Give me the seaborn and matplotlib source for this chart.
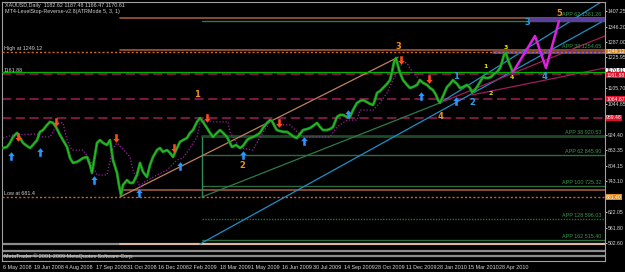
import matplotlib
matplotlib.use("Agg")
import matplotlib.pyplot as plt
import matplotlib.transforms as mtransforms
import numpy as np
import pandas as pd
import seaborn as sns

# ---------------- data (bar index, price) ----------------
price_bars = [0, 4, 7, 10, 14, 17, 20, 24, 27, 30, 34, 37, 40, 44, 47, 50, 53, 57, 60, 64,
              67, 70, 74, 77, 80, 84, 87, 89, 92, 94, 97, 100, 104, 107, 110, 114, 116, 118, 120, 124,
              127, 130, 134, 137, 140, 144, 147, 150, 154, 157, 160, 164, 167, 170, 174, 177, 180, 184, 187, 190,
              194, 197, 200, 204, 207, 210, 214, 217, 220, 224, 227, 229, 233, 237, 240, 244, 247, 250, 254, 257,
              260, 264, 267, 269, 272, 274, 277, 281, 284, 287, 291, 294, 297, 300, 304, 307, 310, 314, 317, 320,
              324, 327, 330, 332, 334, 337, 340, 344, 347, 350, 354, 357, 360, 364, 367, 370, 372, 374, 377, 380,
              384, 387, 389, 391, 393, 395, 397, 400, 404, 407, 410, 414, 417, 420, 424, 427, 430, 433, 435, 437,
              440, 444, 447, 450, 454, 457, 460, 464, 467, 469, 472, 474, 477, 480, 483, 485, 488, 491, 494, 497,
              499, 501, 503, 505, 507, 509, 510]
price_vals = [873, 877, 893, 916, 932, 912, 893, 881, 873, 885, 904, 936, 943, 963, 975, 971, 955, 924, 904, 877,
              834, 815, 819, 826, 834, 838, 807, 776, 846, 893, 904, 893, 885, 904, 826, 776, 729, 690, 729, 748,
              737, 737, 768, 815, 780, 760, 807, 838, 865, 873, 858, 865, 854, 838, 873, 897, 904, 912, 932, 943,
              975, 990, 975, 951, 932, 916, 932, 943, 932, 916, 893, 877, 885, 873, 881, 904, 912, 916, 924, 932,
              951, 971, 982, 978, 955, 943, 939, 936, 936, 928, 916, 912, 928, 943, 947, 951, 959, 971, 955, 943,
              943, 947, 955, 975, 994, 1002, 1002, 994, 994, 1021, 1049, 1056, 1060, 1052, 1045, 1041, 1060, 1088, 1095, 1107,
              1123, 1138, 1169, 1208, 1224, 1193, 1166, 1138, 1119, 1107, 1111, 1119, 1138, 1127, 1119, 1107, 1099, 1080, 1060, 1049,
              1076, 1111, 1123, 1138, 1123, 1107, 1111, 1119, 1107, 1091, 1099, 1111, 1130, 1150, 1146, 1146, 1150, 1162, 1169, 1185,
              1208, 1236, 1244, 1216, 1197, 1177, 1171]

stop_bars = [0, 10, 34, 37, 47, 50, 55, 60, 64, 69, 80, 87, 94, 104, 110, 114, 127, 130, 137, 140,
             154, 164, 174, 180, 187, 194, 197, 204, 210, 225, 227, 237, 250, 257, 264, 267, 274, 287, 294, 300,
             327, 334, 344, 354, 357, 370, 377, 384, 390, 397, 400, 404, 410, 417]
stop_vals = [912, 924, 928, 916, 916, 935, 974, 971, 904, 865, 865, 826, 768, 768, 873, 893, 838, 787, 721, 737,
             768, 787, 826, 834, 873, 916, 971, 982, 975, 975, 936, 873, 865, 916, 955, 982, 963, 963, 936, 916,
             916, 955, 982, 982, 1021, 1021, 1049, 1088, 1138, 1189, 1208, 1204, 1166, 1138]

# projection zigzag
proj_bars = [510, 532, 543, 556]
proj_vals = [1169, 1310, 1185, 1368]

# horizontal levels
high_level = 1249.12
low_level = 681.40
bid_level = 1170.61
dashed_levels = [1161.6, 1064.1, 990.1]
app_levels = [1380.0, 1254.65, 920.53, 845.90, 725.32, 596.03, 515.40]
app_texts = ["APP 62 1381.26", "APP 38 1254.65", "APP 38 920.53", "APP 62 845.90",
             "APP 100 725.32", "APP 128 596.03", "APP 162 515.40"]
brown_levels = [1380.0, 1254.65, 709.3, 499.5]
green_top_level = 1368.3
target_band_level = 1372.0
blue_level = 1246.0
gray_levels = [498.7, 471.5, 452.0]

# trend lines (bar0, price0, bar1, price1)
tan_line = (117, 682.0, 395, 1227.0)
green_line = (199, 682.0, 437, 1049.0)
cyan_line_a = (197, 498.7, 602, 1372.0)
cyan_line_b = (437, 1049.0, 598, 1442.0)
crimson_line_a = (437, 1049.0, 602, 1310.0)
crimson_line_b = (469, 1080.0, 602, 1185.0)
vline_bar = 199
vline_vals = (682.0, 916.0)

# signal arrows
down_bars = [15, 53, 113, 171, 204, 276, 398, 426]
down_vals = [916, 974, 912, 873, 990, 971, 1216, 1142]
up_bars = [8, 37, 91, 136, 177, 240, 301, 345, 418, 453]
up_vals = [842, 857, 748, 698, 803, 846, 900, 1005, 1076, 1056]

# wave labels
orange_waves = ["1", "2", "3", "4", "5"]
orange_bars = [194, 239, 395, 437, 556]
orange_vals = [1080, 803, 1267, 994, 1396]
cyan_waves = ["1", "2", "3", "4"]
cyan_bars = [453, 469, 524, 542]
cyan_vals = [1150, 1049, 1364, 1150]
yellow_waves = ["1", "2", "3", "4"]
yellow_bars = [482, 488, 503, 509]
yellow_vals = [1189, 1087, 1266, 1146]

ytick_vals = [1407.25, 1346.20, 1287.00, 1225.95, 1105.70, 1044.65, 924.40, 863.35,
              804.15, 743.10, 622.05, 561.80, 502.60]
xtick_labels = ["6 May 2008", "19 Jun 2008", "4 Aug 2008", "17 Sep 2008", "31 Oct 2008",
                "16 Dec 2008", "2 Feb 2009", "18 Mar 2009", "1 May 2009", "16 Jun 2009",
                "30 Jul 2009", "14 Sep 2009", "28 Oct 2009", "11 Dec 2009", "28 Jan 2010",
                "15 Mar 2010", "28 Apr 2010"]
xtick_bars = [-1 + 31 * i for i in range(len(xtick_labels))]

# ---------------- drawing ----------------
sns.set_style("dark", {"axes.facecolor": "black", "figure.facecolor": "black",
                       "axes.edgecolor": "#a0a0a0", "grid.color": "black"})
plt.rcParams['font.family'] = ['Liberation Sans', 'DejaVu Sans']
FS = 3.9

fig = plt.figure(figsize=(6.25, 2.72), dpi=100, facecolor="black")
ax = fig.add_axes([2 / 625, 11 / 272, 603 / 625, 259 / 272])
ax.set_facecolor("black")
XMIN, XMAX = -1, 602
ax.set_xlim(XMIN, XMAX)
ax.set_ylim(432.5, 1442.3)

def hseg(level, b0, b1, **kw):
    ax.plot([b0, b1], [level, level], **kw)

# gray bottom lines
for g in gray_levels:
    hseg(g, XMIN, XMAX, color="#8c8c8c", lw=1.6, zorder=1)
# brown levels
for lv in brown_levels:
    col = "#f0c0a0" if lv < 500 else "#a0583a"
    hseg(lv, 117, XMAX, color=col, lw=1.2, zorder=2)
# app green levels
for lv in app_levels[2:]:
    lw = 2.0 if abs(lv - 920.53) < 1 else 1.0
    col = "#1f4a28" if lw > 1 else "#2e6a3e"
    ls = (0, (1, 1)) if abs(lv - 596.03) < 1 else "-"
    hseg(lv, 199, XMAX, color=col, lw=lw, ls=ls, zorder=2)
hseg(green_top_level, 199, XMAX, color="#2e7a4e", lw=1.0, zorder=2)
hseg(target_band_level, 529, XMAX, color="#5b3f9a", lw=3.0, zorder=3)
hseg(blue_level, 490, XMAX, color="#4646e0", lw=2.0, zorder=3)
# dashed crimson
for lv in dashed_levels:
    hseg(lv, XMIN, XMAX, color="#9e1d5c", lw=1.1, ls=(0, (6, 3)), zorder=2)
# high / low dotted
hseg(high_level, XMIN, XMAX, color="#d2691e", lw=1.0, ls=(0, (1.5, 1.5)), zorder=3)
hseg(low_level, XMIN, XMAX, color="#c8642a", lw=1.0, ls=(0, (1.5, 1.5)), zorder=3)
hseg(bid_level, XMIN, XMAX, color="#00b400", lw=0.9, zorder=3)

# vertical line
ax.plot([vline_bar, vline_bar], list(vline_vals), color="#2e8b57", lw=1.0, zorder=2)

# trend lines
for (b0, p0, b1, p1), col in [(tan_line, "#c08060"), (green_line, "#2e7a4e"),
                              (cyan_line_a, "#1e90c8"), (cyan_line_b, "#1e90c8"),
                              (crimson_line_a, "#a01e5a"), (crimson_line_b, "#a01e5a")]:
    ax.plot([b0, b1], [p0, p1], color=col, lw=0.9, zorder=2)

# stop line
sns.lineplot(x=stop_bars, y=stop_vals, ax=ax, color="#a020a0", lw=0.9,
             linestyle=(0, (1, 1.5)), zorder=3, legend=False)

# price series
df = pd.DataFrame({"bar": price_bars, "price": price_vals})
sns.lineplot(data=df, x="bar", y="price", ax=ax, color="#1a961a", lw=2.0, zorder=4, legend=False)
sns.lineplot(data=df, x="bar", y="price", ax=ax, color="#30c030", lw=0.6, zorder=4, legend=False)

# projection zigzag
ax.plot(proj_bars, proj_vals, color="#e020e0", lw=1.8, zorder=5)

# arrows
def arrow_marker(up):
    v = [(-0.3, -1), (0.3, -1), (0.3, 0.1), (0.75, 0.1), (0, 1), (-0.75, 0.1), (-0.3, 0.1)]
    if not up:
        v = [(x, -y) for x, y in v]
    return v
ax.scatter(down_bars, down_vals, marker=arrow_marker(False), s=38, color="#ff4a1e",
           linewidths=0, zorder=6)
ax.scatter(up_bars, up_vals, marker=arrow_marker(True), s=38, color="#2a96ff",
           linewidths=0, zorder=6)

# wave labels
for labs, bs, vs, col in [(orange_waves, orange_bars, orange_vals, "#f0901e"),
                          (cyan_waves, cyan_bars, cyan_vals, "#28a0e6"),
                          (yellow_waves, yellow_bars, yellow_vals, "#e6e600")]:
    for t, b, v in zip(labs, bs, vs):
        ax.text(b, v, t, color=col, fontsize=6 if col != "#e6e600" else 4.5,
                family="DejaVu Sans", fontweight="bold", ha="center", va="center", zorder=7)

# texts
small = dict(fontsize=FS, color="#d0d0d0", zorder=8)
ax.text(2, 1442.3 - 14, "XAUUSD,Daily  1182.62 1187.48 1166.47 1170.61", va="center", **small)
ax.text(2, 1442.3 - 37, "MT4-LevelStop-Reverse-v2.8(ATRMode 5, 3, 1)", va="center", **small)
ax.text(1, high_level + 4, "High at 1249.12", va="bottom", **small)
ax.text(1, dashed_levels[0] + 4, "1161.88", va="bottom", **small)
ax.text(1, low_level + 4, "Low at 681.4", va="bottom", **small)
ax.text(1, 432.5 + 6, "MetaTrader \u00a9 2001-2009 MetaQuotes Software Corp.", va="bottom", **small)
for lv, t in zip(app_levels, app_texts):
    ax.text(598, lv + 3, t, ha="right", va="bottom", fontsize=FS, color="#3c9a4c", zorder=8)

# axis styling
ax.yaxis.tick_right()
ax.set_yticks(ytick_vals)
ax.set_yticklabels([f"{v:.2f}" for v in ytick_vals])
ax.set_xticks(xtick_bars)
ax.set_xticklabels(xtick_labels, ha="left")
ax.tick_params(axis="x", colors="#d8d8d8", labelsize=FS, length=2, width=0.6, pad=1)
ax.tick_params(axis="y", colors="#d8d8d8", labelsize=3.7, length=1.2, width=0.6, pad=0.5)
for lab in ax.get_xticklabels():
    lab.set_transform(lab.get_transform() + mtransforms.ScaledTranslation(1 / 100, 0, fig.dpi_scale_trans))
ax.set_xlabel("")
ax.set_ylabel("")
ax.grid(False)
for s in ax.spines.values():
    s.set_color("#a0a0a0")
    s.set_linewidth(0.8)

# axis value boxes
trans = mtransforms.blended_transform_factory(ax.transAxes, ax.transData)
for lv, txt, bg, fg in [(high_level, "1249.12", "#d2841e", "white"),
                        (bid_level + 3, "1170.61", "white", "black"),
                        (dashed_levels[0] - 4, "1161.88", "#e0102a", "white"),
                        (dashed_levels[1], "1064.67", "#e0102a", "white"),
                        (dashed_levels[2], "989.48", "#e0102a", "white"),
                        (low_level, "681.40", "#e08a1e", "white")]:
    ax.text(1.002, lv, txt, transform=trans, fontsize=3.7, color=fg, va="center", ha="left",
            bbox=dict(boxstyle="square,pad=0.08", fc=bg, ec="none"), zorder=9, clip_on=False)

fig.savefig("out.png", dpi=100, facecolor="black")
